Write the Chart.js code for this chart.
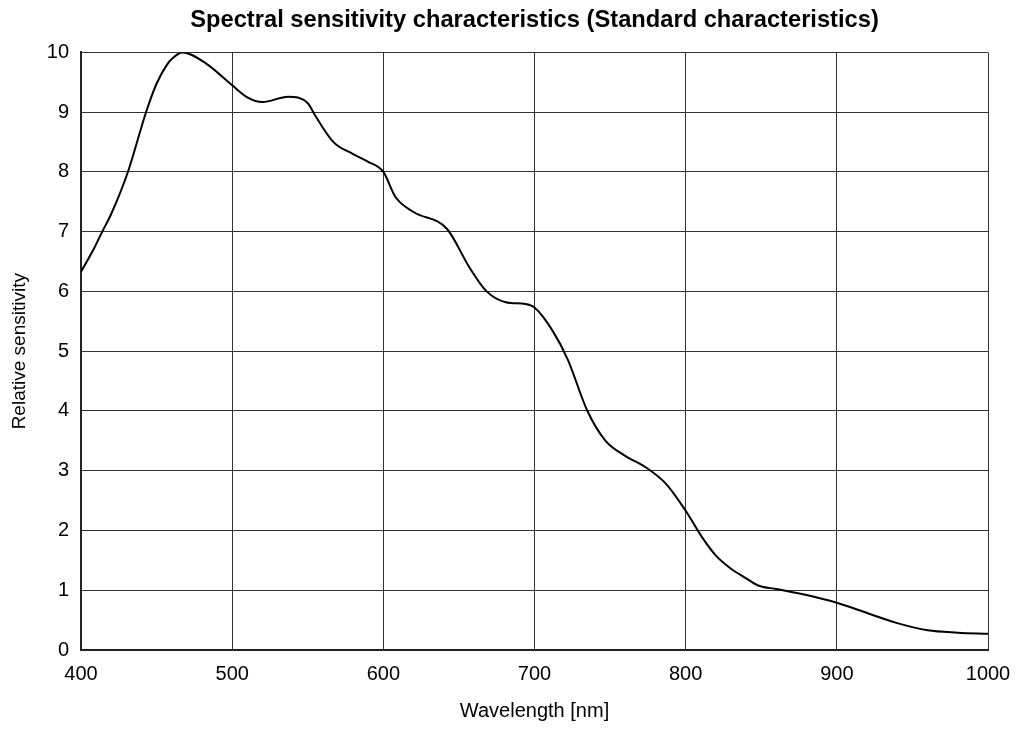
<!DOCTYPE html>
<html>
<head>
<meta charset="utf-8">
<script src="https://cdn.jsdelivr.net/npm/chart.js@4.4.0/dist/chart.umd.min.js"></script>
<style>
    html, body { margin: 0; padding: 0; background: #fff; }
    #wrap { width: 1016px; height: 729px; }
</style>
</head>
<body>
<div id="wrap"><canvas id="chart"></canvas></div>
<script>
const wavelengths = [400, 409, 414, 420, 431, 443, 450, 457, 460, 467, 483, 500, 510, 520, 537, 550, 555, 567, 580, 590, 600, 608, 620, 642, 657, 668, 681, 694, 700, 712, 722, 735, 747, 760, 774, 787, 800, 811, 820, 830, 840, 848, 860, 880, 900, 920, 940, 960, 980, 1000];
const sensitivity = [6.33, 6.74, 7.0, 7.3, 8.0, 9.0, 9.48, 9.8, 9.89, 10.0, 9.81, 9.45, 9.25, 9.17, 9.26, 9.15, 8.94, 8.5, 8.3, 8.17, 8.0, 7.58, 7.33, 7.05, 6.4, 6.01, 5.82, 5.79, 5.73, 5.34, 4.86, 4.0, 3.5, 3.25, 3.05, 2.78, 2.33, 1.88, 1.58, 1.36, 1.2, 1.08, 1.02, 0.92, 0.79, 0.62, 0.45, 0.33, 0.29, 0.27];
const xTicks = [400, 500, 600, 700, 800, 900, 1000];
const yTicks = [0, 1, 2, 3, 4, 5, 6, 7, 8, 9, 10];

const points = wavelengths.map((w, i) => ({ x: w, y: sensitivity[i] }));
const font = "'Liberation Sans', Arial, sans-serif";

new Chart(document.getElementById("chart"), {
    type: 'line',
    data: {
        datasets: [{
            data: points,
            borderColor: '#000',
            borderWidth: 2,
            pointRadius: 0,
            cubicInterpolationMode: 'monotone',
            fill: false
        }]
    },
    options: {
        responsive: true,
        maintainAspectRatio: false,
        animation: false,
        layout: { padding: { left: 8, right: 28, top: 0, bottom: 3 } },
        plugins: {
            legend: { display: false },
            tooltip: { enabled: false },
            title: {
                display: true,
                fullSize: false,
                text: 'Spectral sensitivity characteristics (Standard characteristics)',
                color: '#000',
                font: { family: font, size: 23.7, weight: 'bold' },
                padding: { top: 6, bottom: 18 }
            }
        },
        scales: {
            x: {
                type: 'linear',
                min: 400,
                max: 1000,
                afterBuildTicks: axis => { axis.ticks = xTicks.map(v => ({ value: v })); },
                // let the "1000" label hang past the plot edge like the original
                afterFit: axis => { axis.paddingRight = 0; },
                ticks: {
                    color: '#000',
                    font: { family: font, size: 20 },
                    padding: 12,
                    callback: v => String(v)
                },
                grid: { color: '#333', lineWidth: 1, drawTicks: false },
                border: { color: '#222', width: 2 },
                title: {
                    display: true,
                    text: 'Wavelength [nm]',
                    color: '#000',
                    font: { family: font, size: 20 },
                    padding: { top: 1, bottom: 3 }
                }
            },
            y: {
                min: 0,
                max: 10,
                afterBuildTicks: axis => { axis.ticks = yTicks.map(v => ({ value: v })); },
                ticks: { color: '#000', font: { family: font, size: 20 }, padding: 12 },
                grid: { color: '#333', lineWidth: 1, drawTicks: false },
                border: { color: '#222', width: 2 },
                title: {
                    display: true,
                    text: 'Relative sensitivity',
                    color: '#000',
                    font: { family: font, size: 19 },
                    padding: { top: 0, bottom: 4 }
                }
            }
        }
    }
});
</script>
</body>
</html>
